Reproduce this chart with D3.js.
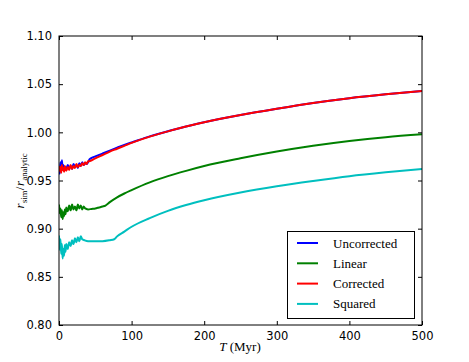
<!DOCTYPE html>
<html><head><meta charset="utf-8">
<script src="https://cdn.jsdelivr.net/npm/d3@7"></script>
<style>body{margin:0;background:#fff}</style>
</head><body>
<svg id="c" width="469" height="362"></svg>
<script>
const xTicks=[0,100,200,300,400,500];
const yTicks=[0.80,0.85,0.90,0.95,1.00,1.05,1.10];
const seriesNames=["Uncorrected","Linear","Corrected","Squared"];
const seriesColors=["#0000ff","#008000","#ff0000","#00bfbf"];
const uncorrT=[0,1,2,3,4,5,6,7,8,10,12,14,16,18,20,22,24,26,28,30,32,34,36,38,40,42,45,50,60,70,80,90,100,125,150,175,200,250,300,350,400,450,500];
const uncorr=[0.962,0.957,0.969,0.960,0.971,0.962,0.966,0.961,0.964,0.962,0.966,0.963,0.965,0.962,0.967,0.964,0.966,0.963,0.968,0.965,0.969,0.966,0.968,0.967,0.969,0.972,0.9735,0.975,0.978,0.981,0.984,0.987,0.9895,0.9958,1.0012,1.006,1.0105,1.018,1.0245,1.0305,1.0355,1.0395,1.043];
const corrT=uncorrT;
const corr=[0.965,0.960,0.964,0.958,0.966,0.961,0.963,0.959,0.965,0.960,0.964,0.961,0.966,0.962,0.965,0.963,0.967,0.964,0.966,0.965,0.968,0.966,0.969,0.967,0.970,0.970,0.971,0.973,0.9765,0.980,0.983,0.986,0.989,0.9955,1.001,1.006,1.0105,1.018,1.0245,1.0305,1.0355,1.0395,1.043];
const linT=[0,1,2,3,4,5,6,7,8,9,10,12,14,16,18,20,22,24,26,28,30,32,34,36,40,45,50,55,60,64,70,80,90,100,125,150,175,200,250,300,350,400,450,500];
const lin=[0.925,0.916,0.921,0.912,0.919,0.910,0.917,0.913,0.920,0.915,0.922,0.918,0.924,0.919,0.925,0.920,0.923,0.919,0.925,0.921,0.924,0.920,0.923,0.921,0.920,0.9205,0.921,0.922,0.923,0.924,0.9275,0.9325,0.9365,0.940,0.948,0.9545,0.960,0.965,0.973,0.9800,0.9860,0.9910,0.9950,0.998];
const sqT=[0,1,2,3,4,5,6,7,8,9,10,12,14,16,18,20,22,24,26,28,30,32,35,40,50,60,70,76,80,90,100,125,150,175,200,250,300,350,400,450,500];
const sq=[0.893,0.878,0.889,0.874,0.884,0.869,0.879,0.872,0.883,0.876,0.884,0.879,0.886,0.882,0.888,0.884,0.890,0.886,0.891,0.887,0.892,0.889,0.888,0.887,0.887,0.887,0.888,0.889,0.892,0.897,0.902,0.911,0.9185,0.9245,0.9295,0.9375,0.9440,0.9495,0.9545,0.9585,0.962];

const L=59,R=422,T=36,B=325;
const svg=d3.select("#c");
const x=d3.scaleLinear().domain([0,500]).range([L,R]);
const y=d3.scaleLinear().domain([0.80,1.10]).range([B,T]);

svg.append("defs").append("clipPath").attr("id","clip").append("rect")
  .attr("x",L).attr("y",T).attr("width",R-L).attr("height",B-T);

const data=[[uncorrT,uncorr],[linT,lin],[corrT,corr],[sqT,sq]];
const line=d3.line().x(d=>x(d[0])).y(d=>y(d[1])).curve(d3.curveMonotoneX);
const g=svg.append("g").attr("clip-path","url(#clip)");
data.forEach((s,i)=>{
  g.append("path").datum(s[0].map((t,j)=>[t,s[1][j]]))
   .attr("d",line).attr("fill","none").attr("stroke",seriesColors[i])
   .attr("stroke-width",2).attr("stroke-linejoin","round");
});

const tf="DejaVu Sans, sans-serif";
const ax=svg.append("g").attr("transform",`translate(0,${B})`).call(d3.axisBottom(x).tickValues(xTicks).tickSizeInner(-4).tickSizeOuter(0).tickPadding(7).tickFormat(d3.format("d")));
const axT=svg.append("g").attr("transform",`translate(0,${T})`).call(d3.axisTop(x).tickValues(xTicks).tickSizeInner(-4).tickSizeOuter(0).tickFormat(""));
const ay=svg.append("g").attr("transform",`translate(${L},0)`).call(d3.axisLeft(y).tickValues(yTicks).tickSizeInner(-4).tickSizeOuter(0).tickPadding(7).tickFormat(d3.format(".2f")));
const ayR=svg.append("g").attr("transform",`translate(${R},0)`).call(d3.axisRight(y).tickValues(yTicks).tickSizeInner(-4).tickSizeOuter(0).tickFormat(""));
[ax,axT,ay,ayR].forEach(a=>{a.select(".domain").remove();a.selectAll("line").attr("stroke","#000");
  a.selectAll("text").attr("font-family",tf).attr("font-size","11.5px").attr("fill","#000");});
svg.append("rect").attr("x",L).attr("y",T).attr("width",R-L).attr("height",B-T)
  .attr("fill","none").attr("stroke","#000").attr("stroke-width",1);

const xl=svg.append("text").attr("x",240).attr("y",351).attr("text-anchor","middle")
  .attr("font-family","'Liberation Serif', serif").attr("font-size","13px");
xl.append("tspan").attr("font-style","italic").text("T");
xl.append("tspan").text(" (Myr)");
const yl=svg.append("text").attr("transform","translate(24,181) rotate(-90)").attr("text-anchor","middle")
  .attr("font-family","'Liberation Serif', serif").attr("font-size","13px");
yl.append("tspan").attr("font-style","italic").text("r");
yl.append("tspan").attr("font-size","8.5px").attr("dy",3).attr("dx",0.5).text("sim");
yl.append("tspan").attr("dy",-3).attr("dx",0.5).text("/");
yl.append("tspan").attr("font-style","italic").attr("dx",0.5).text("r");
yl.append("tspan").attr("font-size","8.5px").attr("dy",3).attr("dx",0.5).text("analytic");

const lg=svg.append("g");
lg.append("rect").attr("x",287.5).attr("y",231.5).attr("width",127).attr("height",87)
  .attr("fill","#fff").attr("stroke","#000").attr("stroke-width",1);
seriesNames.forEach((n,i)=>{
  const yy=243+i*20.3;
  lg.append("line").attr("x1",297).attr("x2",318).attr("y1",yy).attr("y2",yy)
    .attr("stroke",seriesColors[i]).attr("stroke-width",2);
  lg.append("text").attr("x",333).attr("y",yy+4.5).attr("font-family","'Liberation Serif', serif")
    .attr("font-size","13px").text(n);
});
</script>
</body></html>
